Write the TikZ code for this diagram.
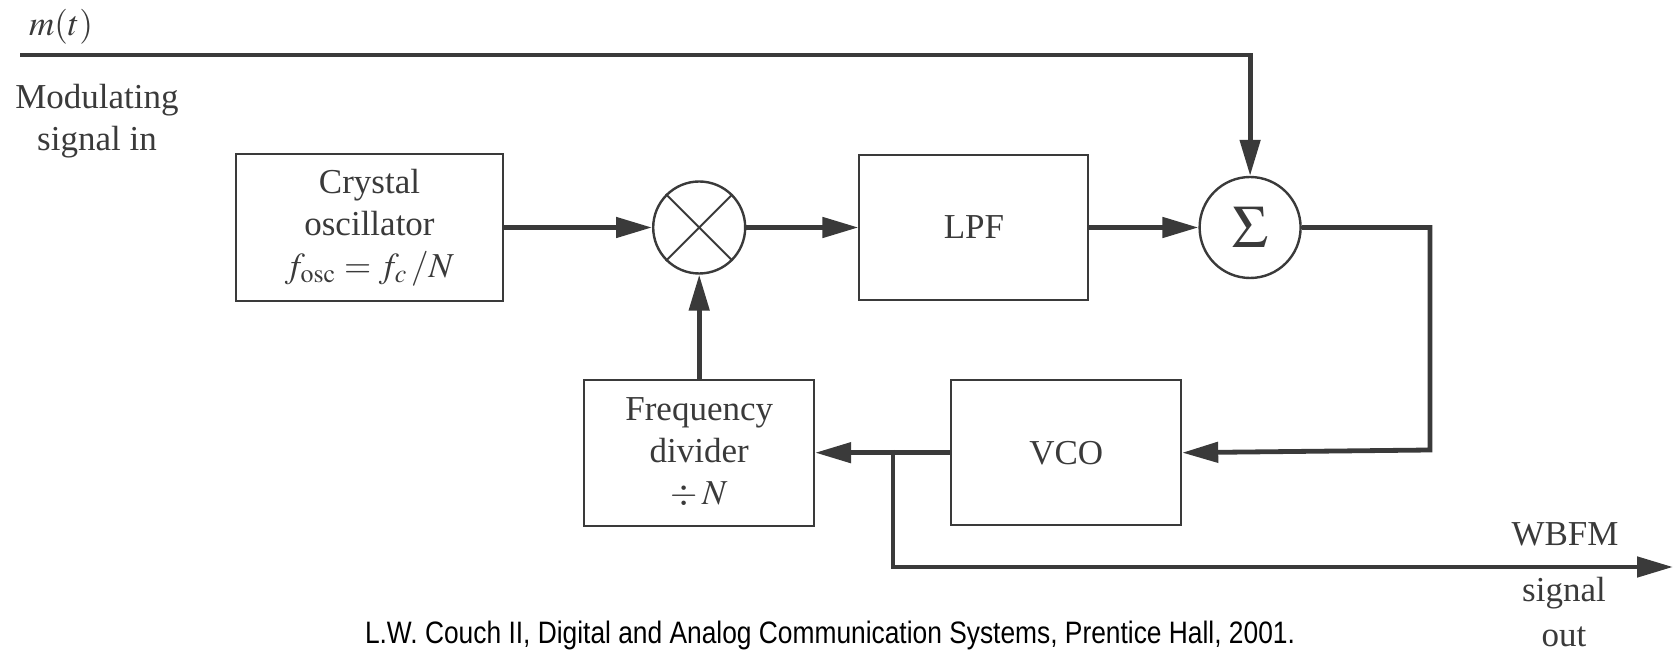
\documentclass[tikz,border=0pt]{standalone}
\usepackage{mathptmx}
\usepackage{fontspec}
\setmainfont{Liberation Serif}
\newfontfamily\capfont[FakeStretch=0.85]{Liberation Sans}
\usetikzlibrary{arrows.meta,positioning}
\definecolor{Ink}{HTML}{3A3A3A}
\tikzset{block/.style={draw=Ink,line width=1pt,minimum height=73pt,align=center,inner sep=0pt,text=Ink},junction/.style={circle,draw=Ink,line width=1.2pt,inner sep=0pt,text=Ink},flow/.style={-{Triangle[length=18pt,width=10pt]},line width=2.4pt,draw=Ink},annot/.style={text=Ink,align=center,inner sep=0pt}}

\begin{document}
\begin{tikzpicture}[x=0.5pt,y=-0.5pt,font=\fontsize{17.5}{21}\selectfont]
      \useasboundingbox (0,0) rectangle (1675,651);
      \node[block,minimum width=133.5pt,minimum height=73.5pt](osc) at (369.5,227.5){Crystal\\oscillator\\$f_{\mathrm{osc}}=f_c\,/N$};
      \node[junction,minimum size=46pt,right=74pt of osc](mix){};
      \draw[Ink,line width=1pt](mix.45)--(mix.225)(mix.135)--(mix.315);
      \node[block,minimum width=114.5pt,minimum height=72.5pt,right=56pt of mix](lpf){LPF};
      \node[junction,minimum size=50.5pt,right=54.5pt of lpf,font=\fontsize{30}{32}\selectfont](sum){$\Sigma$};
      \node[block,minimum width=115pt,below=52pt of mix](div){Frequency\\divider\\$\div\,N$};
      \node[block,minimum width=115pt,minimum height=72.5pt,right=67.5pt of div](vco){VCO};
      \node[annot](mt) at (61,27){$m(t)$};
      \node[annot](msg) at (97,121){Modulating\\signal in};
      \node[annot](wb) at (1565,534){WBFM};
      \node[annot,font=\fontsize{17.5}{22.5}\selectfont](sout) at (1564,612){signal\\out};
      \node[anchor=base,inner sep=0pt,font=\capfont\fontsize{15.5}{18}\selectfont](cite) at (830,643){L.W. Couch II, Digital and Analog Communication Systems, Prentice Hall, 2001.};
      \coordinate(src) at (20,55);
      \coordinate(back) at (1430,450);
      \coordinate(tap) at (893,450);
      \coordinate(wbfm) at (1673,567);
      \draw[flow](src)-|(sum.north);
      \draw[flow](osc.east)--(mix.west);\draw[flow](mix.east)--(lpf.west);\draw[flow](lpf.east)--(sum.west);
      \draw[flow](sum.east)-|(back)--(vco.east);
      \draw[flow](vco.west)--(div.east);
      \draw[flow](div.north)--(mix.south);
      \draw[flow](tap)|-(wbfm);
    \end{tikzpicture}
\end{document}
